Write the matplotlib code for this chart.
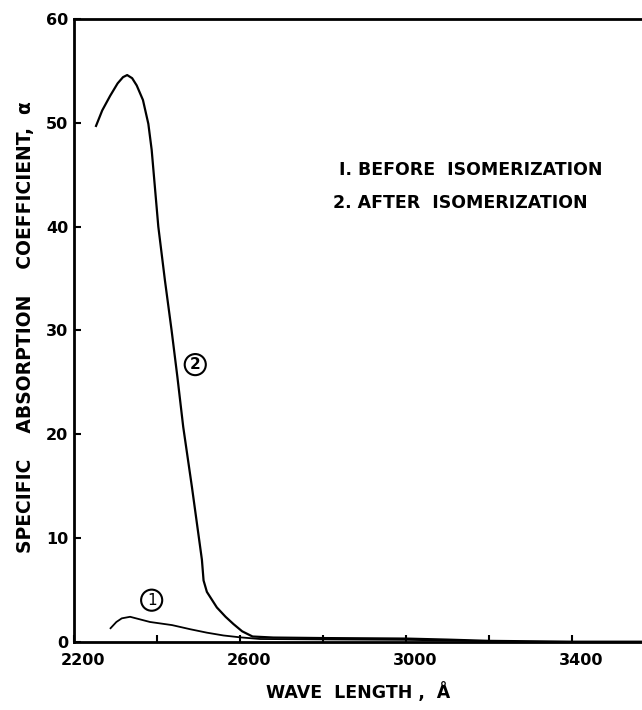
import matplotlib
matplotlib.use("Agg")
import matplotlib.pyplot as plt
import matplotlib.transforms as mtransforms

# curve 2: after isomerization
wl_after = [2253, 2268, 2287, 2305, 2318, 2328, 2340, 2351, 2366, 2379, 2387,
            2403, 2419, 2435, 2449, 2463, 2484, 2508, 2512, 2520, 2544, 2565,
            2584, 2605, 2630, 2680, 2800, 3000, 3100, 3200, 3400, 3570]
alpha_after = [49.7, 51.2, 52.6, 53.8, 54.4, 54.6, 54.3, 53.6, 52.2, 49.9, 47.4,
               40.0, 34.8, 30.0, 25.5, 20.7, 14.9, 7.9, 5.9, 4.8, 3.3, 2.4,
               1.7, 1.0, 0.5, 0.4, 0.35, 0.3, 0.2, 0.08, 0.0, 0.0]

# curve 1: before isomerization
wl_before = [2288, 2302, 2315, 2335, 2383, 2436, 2480, 2520, 2560, 2600, 2648,
             2800, 3000, 3200]
alpha_before = [1.3, 1.9, 2.25, 2.4, 1.9, 1.6, 1.2, 0.87, 0.6, 0.42, 0.26,
                0.22, 0.18, 0.05]

xticks_major = [2200, 2600, 3000, 3400]
xticks_minor = [2400, 2800, 3200]
yticks = [0, 10, 20, 30, 40, 50, 60]

legend_lines = ["I. BEFORE  ISOMERIZATION", "2. AFTER  ISOMERIZATION"]

fig = plt.figure(figsize=(6.42, 7.10), dpi=100)
ax = fig.add_axes([0.1153, 0.0962, 0.8860, 0.8770])

ax.plot(wl_after, alpha_after, color="black", lw=1.6)
ax.plot(wl_before, alpha_before, color="black", lw=1.3)

ax.set_xlim(2200, 3570)
ax.set_ylim(0, 60)

ax.set_xticks(xticks_major)
ax.set_xticks(xticks_minor, minor=True)
ax.set_yticks(yticks)
ax.tick_params(axis="both", which="both", direction="in", length=5, width=1.5,
               labelsize=11.5)
ax.tick_params(axis="x", pad=8)
ax.tick_params(axis="y", pad=4)
for lab in ax.get_xticklabels() + ax.get_yticklabels():
    lab.set_fontweight("bold")
# labels drawn slightly right of the ticks
offset = mtransforms.ScaledTranslation(9 / 100, 0, fig.dpi_scale_trans)
for lab in ax.get_xticklabels():
    lab.set_transform(lab.get_transform() + offset)

ax.spines["right"].set_visible(False)
for s in ["left", "bottom", "top"]:
    ax.spines[s].set_linewidth(2)

ax.set_xlabel("WAVE  LENGTH ,  Å", fontsize=12.5, fontweight="bold", labelpad=10)
ax.set_ylabel("SPECIFIC    ABSORPTION    COEFFICIENT,  α", fontsize=13.5,
              fontweight="bold")
ax.yaxis.set_label_coords(-0.069, 0.505)

# circled curve numbers
ax.text(2387, 4.0, "1", ha="center", va="center", fontsize=11,
        bbox=dict(boxstyle="circle,pad=0.2", fc="white", ec="black", lw=1.5))
ax.text(2492, 26.7, "2", ha="center", va="center", fontsize=11, fontweight="bold",
        bbox=dict(boxstyle="circle,pad=0.2", fc="white", ec="black", lw=1.5))

ax.text(0.465, 0.757, legend_lines[0], transform=ax.transAxes, fontsize=12.5,
        fontweight="bold", va="center")
ax.text(0.455, 0.704, legend_lines[1], transform=ax.transAxes, fontsize=12.5,
        fontweight="bold", va="center")

fig.savefig("out.png", dpi=100)
